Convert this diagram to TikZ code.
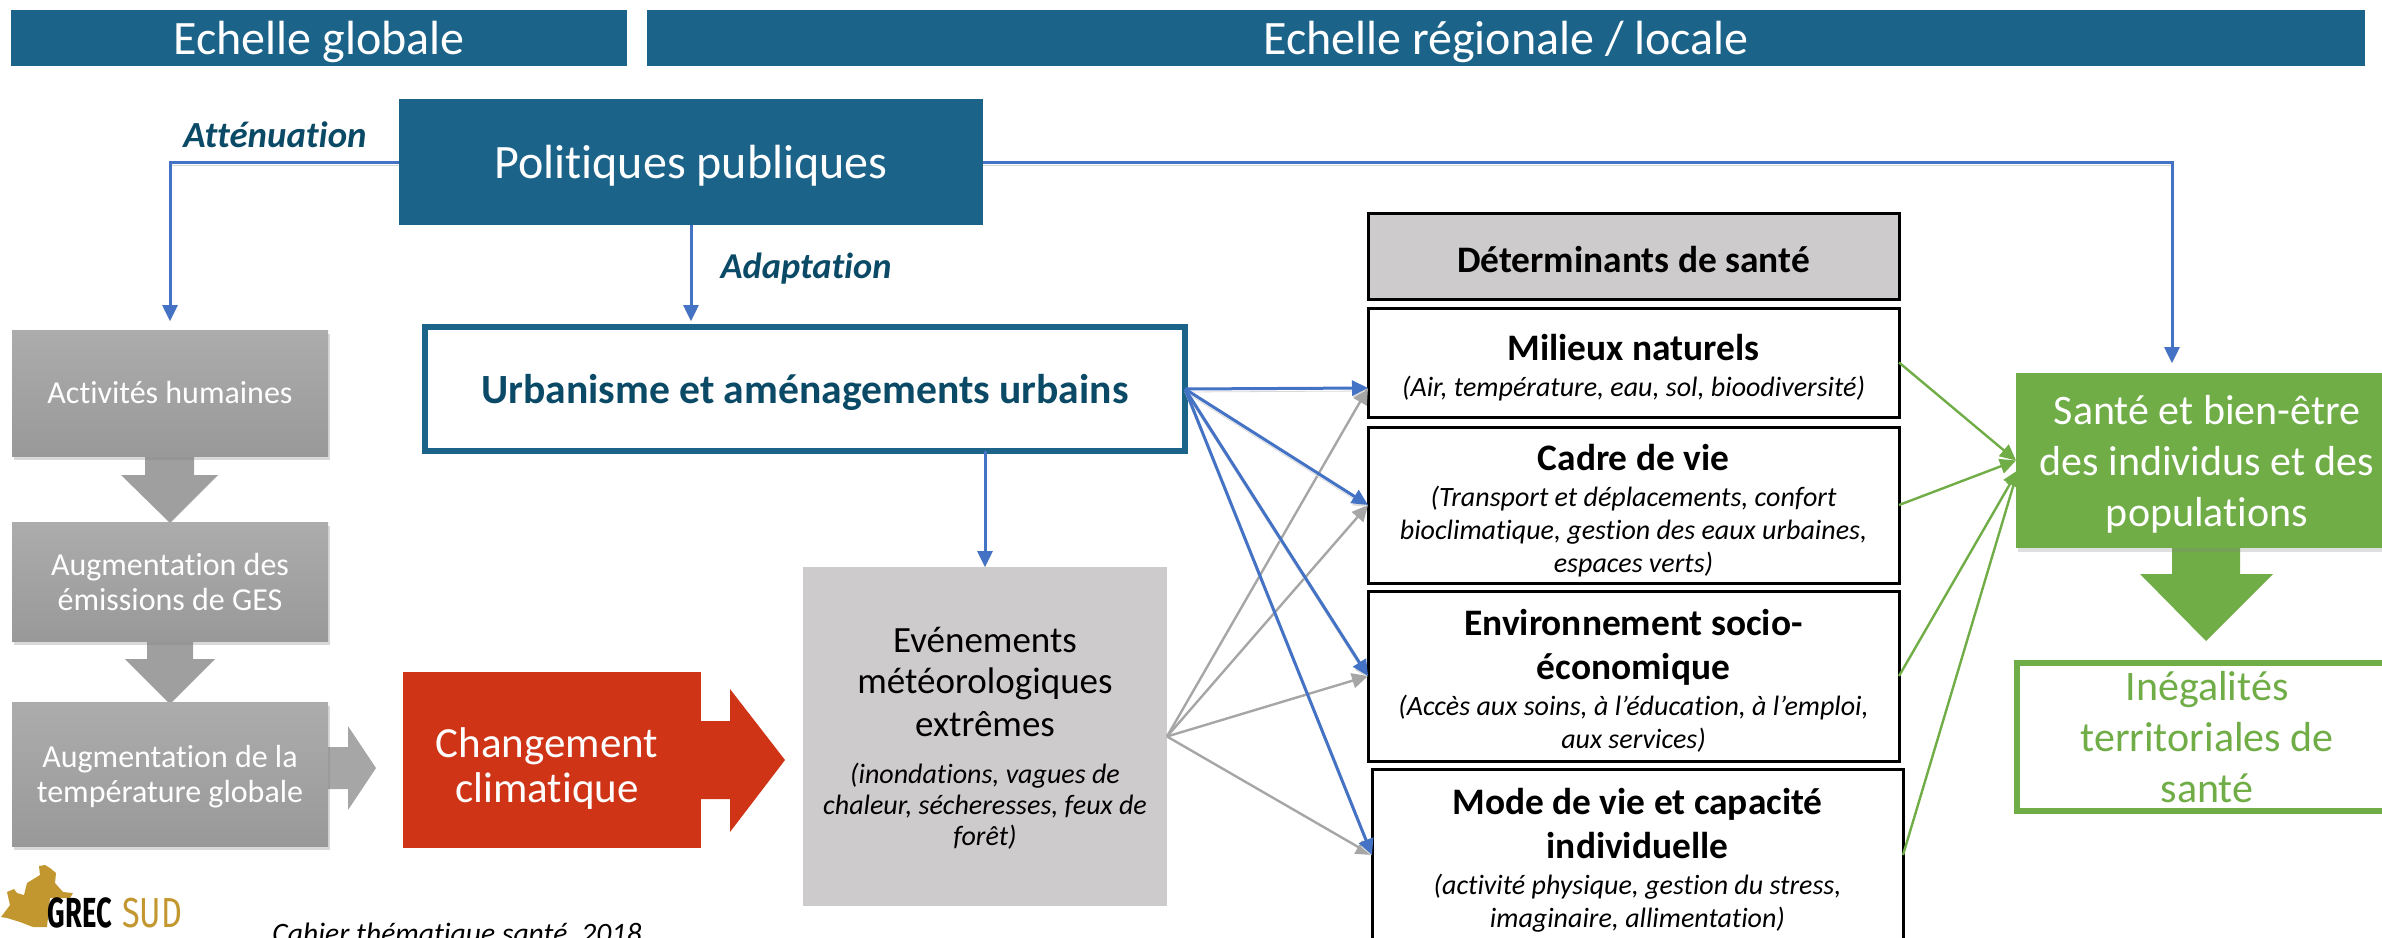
\documentclass[tikz,border=0pt]{standalone}
\usepackage{fontspec}
\setmainfont[Ligatures=NoCommon]{Carlito}
\newfontfamily\logofont{Fira Sans}
\usetikzlibrary{arrows.meta, shadows}
\definecolor{bleuhead}{HTML}{1C6389}
\definecolor{bleunuit}{HTML}{0B4A66}
\definecolor{bleutrait}{HTML}{4472C4}
\definecolor{rouge}{HTML}{CF3416}
\definecolor{vert}{HTML}{70AD47}
\definecolor{grisclair}{HTML}{CDCBCC}
\definecolor{gristrait}{HTML}{A6A6A6}
\definecolor{or}{HTML}{C2972F}
\newcommand{\titrebox}[1]{{\fontsize{18.7}{22}\selectfont\bfseries\upshape\rule{0pt}{16pt}#1}}
\newcommand{\titrebis}[1]{{\fontsize{18.7}{22}\selectfont\bfseries\upshape #1}}
\newcommand{\titreeven}[1]{{\fontsize{18.5}{20.5}\selectfont\upshape #1}}
\begin{document}
\begin{tikzpicture}[x=.5pt, y=-.5pt,
			box/.style = {rectangle, inner sep=0pt, outer sep=0pt, align=center},
			head/.style = {box, fill=bleuhead, text=white, text depth=0pt, font=\fontsize{24}{28}\selectfont},
			grisbox/.style = {box, minimum width=158pt, top color=gray!65, bottom color=gray!80, text=white,
				font=\fontsize{16}{17.5}\selectfont, drop shadow={shadow xshift=1pt, shadow yshift=-2pt, opacity=.3}},
			detbox/.style = {box, draw=black, line width=1.5pt, minimum width=265.5pt, text depth=0pt, font=\fontsize{14}{16.5}\selectfont\itshape},
			bleu/.style = {draw=bleutrait, line width=1.5pt, -{Triangle[length=8pt, width=7.5pt]},
				preaction={draw=black!15, transform canvas={yshift=-1.5pt}}},
			gris/.style = {draw=gristrait, line width=1.2pt, -{Triangle[length=8pt, width=7.5pt]}},
			vertt/.style = {draw=vert, line width=1.2pt, -{Triangle[length=8pt, width=7.5pt]}}]
			\useasboundingbox (0,0) rectangle (2382,937);
			% bandeaux
			\node (hglob) [head, minimum width=308pt, minimum height=28pt] at (319,38) {Echelle globale};
			\node (hreg) [head, minimum width=859pt, minimum height=28pt] at (1506,38) {Echelle régionale / locale};
			\node (pol) [head, minimum width=292pt, minimum height=63pt] at (691,162) {Politiques publiques};
			\node (att) [font=\fontsize{18.4}{22}\selectfont\bfseries\itshape, text=bleunuit] at (275,135) {Atténuation};
			\node (adap) [font=\fontsize{18.2}{22}\selectfont\bfseries\itshape, text=bleunuit] at (806,269) {Adaptation};
			\node (urb) [box, draw=bleuhead, line width=3pt, minimum width=380pt, minimum height=62pt, text=bleunuit, text depth=0pt,
				font=\fontsize{20.8}{25}\selectfont\bfseries] at (805,389) {Urbanisme et aménagements urbains};
			% fleches pleines
			\fill [gray!75] (145,456) -- (194,456) -- (194,475) -- (218,475) -- (170,523) -- (121,475) -- (145,475) -- cycle;
			\fill [gray!75] (147,641) -- (193,641) -- (193,659) -- (215,659) -- (170,704) -- (125,659) -- (147,659) -- cycle;
			\fill [gristrait] (328,747) -- (348,747) -- (348,726) -- (376,768) -- (348,810) -- (348,789) -- (328,789) -- cycle;
			\fill [rouge] (701,721) -- (730,721) -- (730,689) -- (785,760) -- (730,832) -- (730,799) -- (701,799) -- cycle;
			\fill [vert] (2172,548) -- (2240,548) -- (2240,574) -- (2273,574) -- (2206,641) -- (2140,574) -- (2172,574) -- cycle;
			% colonne de gauche
			\node (act) [grisbox, minimum height=63pt] at (170,393) {Activités humaines};
			\node (ges) [grisbox, minimum height=59.5pt] at (170,581.5) {Augmentation des\\émissions de GES};
			\node (temp) [grisbox, minimum height=72pt, text depth=0pt] at (170,774) {Augmentation de la\\température globale};
			\node (clim) [box, fill=rouge, text=white, minimum width=149pt, minimum height=88pt, text depth=0pt,
				font=\fontsize{21.5}{22.5}\selectfont] at (552,760) {\rule{0pt}{20pt}Changement\hspace*{5pt}\\climatique\hspace*{5pt}};
			\node (even) [box, fill=grisclair, minimum width=182pt, minimum height=169.5pt, text depth=0pt,
				font=\fontsize{14}{15.5}\selectfont\itshape] at (985,736.5)
				{\titreeven{Evénements}\\[5pt]
				\titreeven{météorologiques}\\[5pt]
				\titreeven{extrêmes}\\[8pt]
				(inondations, vagues de\\chaleur, sécheresses, feux de\\forêt)};
			% determinants
			\node (det) [detbox, fill=grisclair, minimum height=43pt] at (1633.5,256) {\titrebox{Déterminants de santé}};
			\node (mil) [detbox, minimum height=54.5pt] at (1633.5,362.5) {\titrebox{Milieux naturels}\\[1.5pt](Air, température, eau, sol, bioodiversité)};
			\node (cadre) [detbox, minimum height=78pt] at (1633.5,505) {\titrebox{Cadre de vie}\\[1.5pt](Transport et déplacements, confort\\bioclimatique, gestion des eaux urbaines,\\espaces verts)};
			\node (env) [detbox, minimum height=85pt] at (1633.5,676) {\titrebox{Environnement socio-}\\[5.5pt]\titrebis{économique}\\[1.5pt](Accès aux soins, à l’éducation, à l’emploi,\\aux services)};
			\node (mode) [detbox, minimum height=86pt] at (1637.5,855) {\titrebox{Mode de vie et capacité}\\[5.5pt]\titrebis{individuelle}\\[1.5pt](activité physique, gestion du stress,\\imaginaire, allimentation)};
			% a droite
			\node (sante) [box, fill=vert, text=white, minimum width=191pt, minimum height=87.5pt, text depth=0pt,
				font=\fontsize{21}{25.5}\selectfont, drop shadow={shadow xshift=1pt, shadow yshift=-2pt, opacity=.25}] at (2207,460.5)
				{Santé et bien-être\\des individus et des\\populations};
			\node (ineg) [box, draw=vert, line width=3pt, fill=white, text=vert, minimum width=190pt, minimum height=74pt, text depth=0pt,
				font=\fontsize{21}{25.5}\selectfont] at (2207,737) {Inégalités\\territoriales de\\santé};
			\coordinate (milin) at (1368,388);
			\coordinate (santein) at (2172,363);
			\coordinate (santebas) at (2018,470);
			% liaisons
			\draw [bleu] (pol.west) -| ([yshift=4.5pt]act.north);
			\draw [bleu] (pol.east) -| (santein);
			\draw [bleu] (pol.south) -- ([yshift=3pt]pol.south |- urb.north);
			\draw [bleu] (even.north |- urb.south) -- (even.north);
			\draw [gris] (even.east) -- (milin);
			\draw [gris] (even.east) -- (cadre.west);
			\draw [gris] (even.east) -- (env.west);
			\draw [gris] (even.east) -- (mode.west);
			\draw [bleu] (urb.east) -- (milin);
			\draw [bleu] (urb.east) -- (cadre.west);
			\draw [bleu] (urb.east) -- (env.west);
			\draw [bleu] (urb.east) -- (mode.west);
			\draw [vertt] (mil.east) -- (sante.west);
			\draw [vertt] (cadre.east) -- (sante.west);
			\draw [vertt] (env.east) -- (santebas);
			\draw [vertt] (mode.east) -- (santebas);
			% logo
			\fill [or] (1,917) -- (10,905) -- (7,892) -- (14,889) -- (17,893) -- (24,895) -- (27,883) -- (40,875) -- (39,866) -- (45,865)
				-- (50,868) -- (56,873) -- (55,883) -- (63,892) -- (73,893) -- (70,898) -- (50,898) -- (47,927) -- (33,927) -- (20,922) -- (7,918) -- cycle;
			\node (grec) [font=\logofont\fontsize{21}{25}\selectfont\bfseries, xscale=.65] at (80,913) {GREC};
			\node (sud) [font=\logofont\fontsize{21}{25}\selectfont, text=or, xscale=.77] at (152,913) {SUD};
			\node (cahier) [anchor=base, font=\fontsize{14.8}{17}\selectfont\itshape] at (457,943) {Cahier thématique santé, 2018};
			\end{tikzpicture}
\end{document}
